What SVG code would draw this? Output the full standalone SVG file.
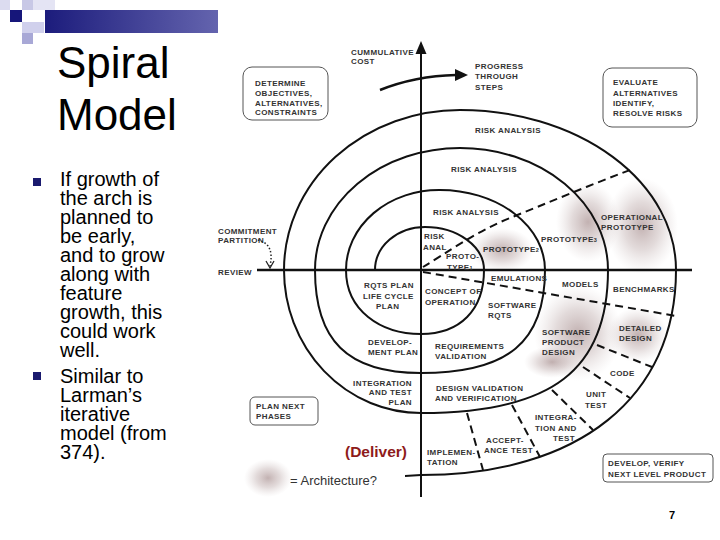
<svg xmlns="http://www.w3.org/2000/svg" width="720" height="540" viewBox="0 0 720 540">
<defs>
<style>
.t{font-family:"Liberation Sans",Arial,sans-serif;font-weight:bold;font-size:8px;fill:#333;letter-spacing:0.4px}
.s{fill:none;stroke:#111;stroke-width:2}
.d{fill:none;stroke:#111;stroke-width:2;stroke-dasharray:8 5}
.box{fill:#fff;stroke:#555;stroke-width:1}
.body{font-family:"Liberation Sans",Arial,sans-serif;font-size:20px;fill:#000}
.title{font-family:"Liberation Sans",Arial,sans-serif;font-size:44px;fill:#000}
.bul{fill:#1a1a6e}
.blob{fill:url(#blob)}
</style>
<radialGradient id="blob">
<stop offset="0" stop-color="#a89090" stop-opacity="0.7"/>
<stop offset="0.5" stop-color="#b8a4a4" stop-opacity="0.4"/>
<stop offset="1" stop-color="#d0c4c4" stop-opacity="0"/>
</radialGradient>
<linearGradient id="bar" x1="0" y1="0" x2="1" y2="0">
<stop offset="0" stop-color="#1c1c7c"/>
<stop offset="1" stop-color="#6464ae"/>
</linearGradient>
</defs>
<rect width="720" height="540" fill="#fff"/>

<g id="header">
<rect x="0" y="0" width="10" height="10" fill="#dcdcf0"/>
<rect x="22" y="0" width="11" height="10" fill="#c8c8e6"/>
<rect x="33" y="0" width="22" height="10" fill="#e4e4f4"/>
<rect x="10" y="10" width="12" height="12" fill="#16167a"/>
<rect x="22" y="22" width="22" height="11" fill="#d0d0ec"/>
<rect x="22" y="33" width="11" height="11" fill="#a8a8d6"/>
<rect x="45" y="10" width="173" height="23" fill="url(#bar)"/>
</g>

<g id="title">
<text class="title" x="57" y="78">Spiral</text>
<text class="title" x="57" y="130">Model</text>
</g>

<g id="bullets">
<rect class="bul" x="33" y="178" width="8" height="8"/>
<text class="body" x="60" y="186">If growth of</text>
<text class="body" x="60" y="205">the arch is</text>
<text class="body" x="60" y="224">planned to</text>
<text class="body" x="60" y="243">be early,</text>
<text class="body" x="60" y="262">and to grow</text>
<text class="body" x="60" y="281">along with</text>
<text class="body" x="60" y="300">feature</text>
<text class="body" x="60" y="319">growth, this</text>
<text class="body" x="60" y="338">could work</text>
<text class="body" x="60" y="357">well.</text>
<rect class="bul" x="33" y="372" width="8" height="8"/>
<text class="body" x="60" y="383">Similar to</text>
<text class="body" x="60" y="402">Larman’s</text>
<text class="body" x="60" y="421">iterative</text>
<text class="body" x="60" y="440">model (from</text>
<text class="body" x="60" y="459">374).</text>
</g>

<g id="shading">
<ellipse class="blob" cx="502" cy="250" rx="32" ry="22"/>
<ellipse class="blob" cx="588" cy="222" rx="32" ry="40"/>
<ellipse class="blob" cx="642" cy="226" rx="36" ry="48"/>
<ellipse class="blob" cx="578" cy="333" rx="44" ry="48"/>
<ellipse class="blob" cx="638" cy="335" rx="30" ry="28"/>
<ellipse class="blob" cx="552" cy="362" rx="28" ry="16"/>
<ellipse class="blob" cx="268" cy="478" rx="24" ry="19"/>
</g>

<g id="connectors">
<path class="s" d="M375,270 A50,43 0 0 1 425,227 A59,43 0 0 1 484,270 C484,310 460,334 421,334 C380,334 346,310 346,270 A93,80 0 0 1 440,190 A105,80 0 0 1 545,270 C545,342 508,373 421,373 C347,373 315,340 315,270 A145,122 0 0 1 460,148 A148,122 0 0 1 608,270 C608,370 552,413 421,413 A137,143 0 0 1 284,270 A176,160 0 0 1 460,110 A216,160 0 0 1 676,270 C676,397 579,475 421,475 L405,476"/>
<line x1="257" y1="270" x2="692" y2="270" stroke="#111" stroke-width="2.5"/>
<line x1="421" y1="52" x2="421" y2="497" stroke="#111" stroke-width="2"/>
<polygon points="421,41 415.5,54 426.5,54" fill="#111"/>
<path d="M380,90 Q415,76 456,75" fill="none" stroke="#111" stroke-width="2.5"/>
<polygon points="468,75 455,69 455,81" fill="#111"/>
<path class="d" d="M423,267 C445,254 475,232 510,218 S590,185 630,170"/>
<path class="d" d="M423,272 L676,316"/>
<path class="d" d="M467,413 L483,470"/>
<path class="d" d="M512,405 L540,457"/>
<path class="d" d="M552,390 L593,430"/>
<path class="d" d="M583,367 L630,398"/>
<path class="d" d="M597,345 L652,367"/>
<path d="M258,240 C270,243 273,252 270,266" fill="none" stroke="#222" stroke-width="1.5" stroke-dasharray="1.5 2"/>
<path d="M266,261 L270,268 L274,261" fill="none" stroke="#222" stroke-width="1.3"/>
</g>

<g id="n-cost"><text class="t" x="351" y="55">CUMMULATIVE</text><text class="t" x="351" y="64">COST</text></g>
<g id="n-progress"><text class="t" x="475" y="69">PROGRESS</text><text class="t" x="475" y="79">THROUGH</text><text class="t" x="475" y="90">STEPS</text></g>
<g id="n-determine"><rect class="box" x="243" y="67" width="85" height="53" rx="9"/>
<text class="t" x="255" y="86">DETERMINE</text><text class="t" x="255" y="96">OBJECTIVES,</text><text class="t" x="255" y="106">ALTERNATIVES,</text><text class="t" x="255" y="115">CONSTRAINTS</text></g>
<g id="n-evaluate"><rect class="box" x="603" y="68" width="94" height="59" rx="9"/>
<text class="t" x="613" y="85">EVALUATE</text><text class="t" x="613" y="96">ALTERNATIVES</text><text class="t" x="613" y="106">IDENTIFY,</text><text class="t" x="613" y="116">RESOLVE RISKS</text></g>
<g id="n-ra1"><text class="t" x="475" y="133">RISK ANALYSIS</text></g>
<g id="n-ra2"><text class="t" x="451" y="172">RISK ANALYSIS</text></g>
<g id="n-ra3"><text class="t" x="433" y="215">RISK ANALYSIS</text></g>
<g id="n-ra4"><text class="t" x="424" y="239">RISK</text><text class="t" x="423" y="250">ANAL</text></g>
<g id="n-proto1"><text class="t" x="446" y="259">PROTO-</text><text class="t" x="447" y="270">TYPE<tspan font-size="5.5">1</tspan></text></g>
<g id="n-proto2"><text class="t" x="483" y="252">PROTOTYPE<tspan font-size="5.5">2</tspan></text></g>
<g id="n-proto3"><text class="t" x="541" y="242">PROTOTYPE<tspan font-size="5.5">3</tspan></text></g>
<g id="n-opproto"><text class="t" x="601" y="220">OPERATIONAL</text><text class="t" x="601" y="230">PROTOTYPE</text></g>
<g id="n-commit"><text class="t" x="218" y="234">COMMITMENT</text><text class="t" x="218" y="243">PARTITION</text></g>
<g id="n-review"><text class="t" x="218" y="275">REVIEW</text></g>
<g id="n-rqts"><text class="t" x="364" y="288">RQTS PLAN</text><text class="t" x="363" y="299">LIFE CYCLE</text><text class="t" x="376" y="309">PLAN</text></g>
<g id="n-concept"><text class="t" x="425" y="294">CONCEPT OF</text><text class="t" x="425" y="305">OPERATION</text></g>
<g id="n-emul"><text class="t" x="491" y="281">EMULATIONS</text></g>
<g id="n-models"><text class="t" x="562" y="287">MODELS</text></g>
<g id="n-bench"><text class="t" x="613" y="292">BENCHMARKS</text></g>
<g id="n-swrqts"><text class="t" x="488" y="308">SOFTWARE</text><text class="t" x="488" y="318">RQTS</text></g>
<g id="n-spd"><text class="t" x="542" y="335">SOFTWARE</text><text class="t" x="542" y="345">PRODUCT</text><text class="t" x="542" y="355">DESIGN</text></g>
<g id="n-detailed"><text class="t" x="619" y="331">DETAILED</text><text class="t" x="619" y="341">DESIGN</text></g>
<g id="n-devplan"><text class="t" x="368" y="345">DEVELOP-</text><text class="t" x="368" y="355">MENT PLAN</text></g>
<g id="n-reqval"><text class="t" x="435" y="349">REQUIREMENTS</text><text class="t" x="435" y="359">VALIDATION</text></g>
<g id="n-itplan"><text class="t" x="412" y="386" text-anchor="end">INTEGRATION</text><text class="t" x="412" y="395" text-anchor="end">AND TEST</text><text class="t" x="412" y="405" text-anchor="end">PLAN</text></g>
<g id="n-desval"><text class="t" x="436" y="391">DESIGN VALIDATION</text><text class="t" x="435" y="401">AND VERIFICATION</text></g>
<g id="n-code"><text class="t" x="610" y="376">CODE</text></g>
<g id="n-unit"><text class="t" x="586" y="397">UNIT</text><text class="t" x="585" y="408">TEST</text></g>
<g id="n-integ"><text class="t" x="535" y="420">INTEGRA-</text><text class="t" x="535" y="431">TION AND</text><text class="t" x="553" y="441">TEST</text></g>
<g id="n-accept"><text class="t" x="486" y="443">ACCEPT-</text><text class="t" x="484" y="453">ANCE TEST</text></g>
<g id="n-impl"><text class="t" x="427" y="455">IMPLEMEN-</text><text class="t" x="427" y="465">TATION</text></g>
<g id="n-plannext"><rect class="box" x="250" y="397" width="68" height="28" rx="5"/>
<text class="t" x="256" y="409">PLAN NEXT</text><text class="t" x="256" y="419">PHASES</text></g>
<g id="n-develop"><rect class="box" x="603" y="454" width="110" height="28" rx="4"/>
<text class="t" x="608" y="466">DEVELOP, VERIFY</text><text class="t" x="608" y="477">NEXT LEVEL PRODUCT</text></g>
<g id="n-deliver"><text x="345" y="457" font-family="Liberation Sans, Arial, sans-serif" font-weight="bold" font-size="15.5" fill="#8e1b1b">(Deliver)</text></g>
<g id="n-legend"><text x="290" y="485" font-family="Liberation Sans, Arial, sans-serif" font-size="13" fill="#333">= Architecture?</text></g>
<g id="n-page"><text x="669" y="519" font-family="Liberation Sans, Arial, sans-serif" font-weight="bold" font-size="11" fill="#000">7</text></g>
</svg>
